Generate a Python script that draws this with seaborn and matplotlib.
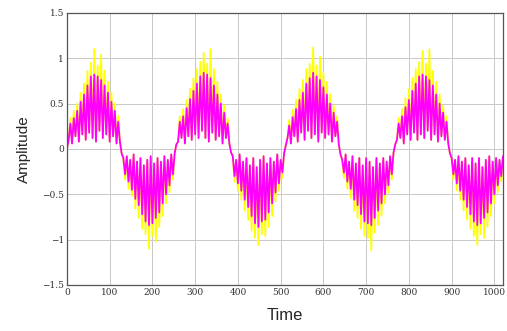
import numpy as np
import pandas as pd
import matplotlib
matplotlib.use("Agg")
import matplotlib.pyplot as plt
import seaborn as sns

# sample spacing of the signal (time units)
step = 4

# magenta signal, one list per half cycle
mag_p1 = [0.00, 0.10, 0.28, 0.06, 0.34, 0.14, 0.42, 0.08, 0.52, 0.16, 0.60, 0.10, 0.70, 0.18, 0.80, 0.12,
          0.82, 0.08, 0.80, 0.20, 0.76, 0.12, 0.70, 0.16, 0.62, 0.08, 0.52, 0.14, 0.42, 0.06, 0.30, 0.08]
mag_n1 = [-0.05, -0.10, -0.28, -0.08, -0.36, -0.12, -0.45, -0.06, -0.55, -0.14, -0.62, -0.10, -0.72, -0.18, -0.80, -0.12,
          -0.84, -0.08, -0.82, -0.16, -0.76, -0.10, -0.70, -0.14, -0.60, -0.08, -0.50, -0.12, -0.40, -0.06, -0.28, -0.05]
mag_p2 = [0.05, 0.08, 0.30, 0.12, 0.36, 0.06, 0.45, 0.14, 0.55, 0.10, 0.64, 0.16, 0.72, 0.12, 0.80, 0.20,
          0.84, 0.12, 0.82, 0.08, 0.78, 0.18, 0.70, 0.10, 0.60, 0.14, 0.50, 0.06, 0.40, 0.12, 0.28, 0.06]
mag_n2 = [-0.04, -0.08, -0.30, -0.12, -0.38, -0.06, -0.46, -0.14, -0.56, -0.10, -0.64, -0.18, -0.74, -0.10, -0.82, -0.20,
          -0.86, -0.12, -0.80, -0.08, -0.78, -0.16, -0.70, -0.10, -0.60, -0.14, -0.48, -0.06, -0.38, -0.12, -0.26, -0.05]
mag_p3 = [0.04, 0.12, 0.26, 0.06, 0.35, 0.14, 0.44, 0.08, 0.54, 0.18, 0.62, 0.10, 0.72, 0.20, 0.78, 0.12,
          0.84, 0.16, 0.80, 0.08, 0.76, 0.18, 0.68, 0.12, 0.60, 0.16, 0.50, 0.08, 0.40, 0.14, 0.30, 0.05]
mag_n3 = [-0.06, -0.12, -0.26, -0.06, -0.36, -0.14, -0.44, -0.08, -0.56, -0.16, -0.62, -0.10, -0.72, -0.18, -0.80, -0.10,
          -0.82, -0.14, -0.84, -0.20, -0.76, -0.10, -0.68, -0.16, -0.60, -0.10, -0.50, -0.14, -0.40, -0.08, -0.28, -0.04]
mag_p4 = [0.05, 0.10, 0.28, 0.12, 0.36, 0.06, 0.46, 0.16, 0.54, 0.10, 0.64, 0.18, 0.72, 0.10, 0.80, 0.16,
          0.82, 0.12, 0.80, 0.20, 0.76, 0.10, 0.70, 0.16, 0.60, 0.08, 0.50, 0.14, 0.40, 0.10, 0.30, 0.06]
mag_n4 = [-0.05, -0.10, -0.28, -0.12, -0.38, -0.08, -0.46, -0.14, -0.56, -0.10, -0.64, -0.18, -0.72, -0.10, -0.80, -0.16,
          -0.84, -0.10, -0.82, -0.20, -0.76, -0.12, -0.70, -0.08, -0.60, -0.14, -0.50, -0.10, -0.40, -0.12, -0.30, -0.08]

# yellow signal (drawn underneath), same layout
yel_p1 = [0.00, 0.10, 0.34, 0.06, 0.42, 0.14, 0.50, 0.08, 0.62, 0.16, 0.72, 0.10, 0.86, 0.18, 0.95, 0.12,
          1.10, 0.08, 0.92, 0.20, 1.04, 0.12, 0.86, 0.16, 0.74, 0.08, 0.62, 0.14, 0.50, 0.06, 0.36, 0.08]
yel_n1 = [-0.05, -0.10, -0.34, -0.08, -0.44, -0.12, -0.52, -0.06, -0.66, -0.14, -0.76, -0.10, -0.88, -0.18, -0.94, -0.12,
          -1.10, -0.08, -0.96, -0.16, -1.02, -0.10, -0.86, -0.14, -0.74, -0.08, -0.60, -0.12, -0.48, -0.06, -0.34, -0.05]
yel_p2 = [0.05, 0.08, 0.36, 0.12, 0.44, 0.06, 0.54, 0.14, 0.66, 0.10, 0.78, 0.16, 0.88, 0.12, 0.96, 0.20,
          1.06, 0.12, 0.94, 0.08, 1.10, 0.18, 0.88, 0.10, 0.74, 0.14, 0.60, 0.06, 0.48, 0.12, 0.34, 0.06]
yel_n2 = [-0.04, -0.08, -0.36, -0.12, -0.46, -0.06, -0.56, -0.14, -0.68, -0.10, -0.78, -0.18, -0.90, -0.10, -0.98, -0.20,
          -1.06, -0.12, -0.94, -0.08, -0.96, -0.16, -0.86, -0.10, -0.74, -0.14, -0.58, -0.06, -0.46, -0.12, -0.32, -0.05]
yel_p3 = [0.04, 0.12, 0.32, 0.06, 0.43, 0.14, 0.54, 0.08, 0.66, 0.18, 0.76, 0.10, 0.88, 0.20, 0.94, 0.12,
          1.12, 0.16, 0.92, 0.08, 1.02, 0.18, 0.84, 0.12, 0.74, 0.16, 0.60, 0.08, 0.48, 0.14, 0.36, 0.05]
yel_n3 = [-0.06, -0.12, -0.32, -0.06, -0.44, -0.14, -0.54, -0.08, -0.68, -0.16, -0.76, -0.10, -0.88, -0.18, -0.96, -0.10,
          -0.98, -0.14, -1.12, -0.20, -0.92, -0.10, -0.84, -0.16, -0.74, -0.10, -0.60, -0.14, -0.48, -0.08, -0.34, -0.04]
yel_p4 = [0.05, 0.10, 0.34, 0.12, 0.44, 0.06, 0.56, 0.16, 0.66, 0.10, 0.78, 0.18, 0.88, 0.10, 0.96, 0.16,
          1.08, 0.12, 0.94, 0.20, 1.10, 0.10, 0.86, 0.16, 0.74, 0.08, 0.60, 0.14, 0.48, 0.10, 0.36, 0.06]
yel_n4 = [-0.05, -0.10, -0.34, -0.12, -0.46, -0.08, -0.56, -0.14, -0.68, -0.10, -0.78, -0.18, -0.88, -0.10, -0.96, -0.16,
          -1.06, -0.10, -0.94, -0.20, -0.98, -0.12, -0.86, -0.08, -0.74, -0.14, -0.60, -0.10, -0.48, -0.12, -0.36, -0.08]

magenta = mag_p1 + mag_n1 + mag_p2 + mag_n2 + mag_p3 + mag_n3 + mag_p4 + mag_n4
yellow = yel_p1 + yel_n1 + yel_p2 + yel_n2 + yel_p3 + yel_n3 + yel_p4 + yel_n4
time = np.arange(len(magenta)) * step

df = pd.DataFrame({'Time': time, 'yellow': yellow, 'magenta': magenta})

sns.set_style("whitegrid")
plt.rcParams['font.family'] = ['Liberation Sans', 'DejaVu Sans']

fig = plt.figure(figsize=(5.07, 3.31), dpi=100)
ax = fig.add_axes([0.132, 0.139, 0.860, 0.822])

sns.lineplot(data=df, x='Time', y='yellow', color='#ffff00', linewidth=1.3, estimator=None, ax=ax)
sns.lineplot(data=df, x='Time', y='magenta', color='#ff00ff', linewidth=1.3, estimator=None, ax=ax)

ax.set_xlim(0, 1020)
ax.set_ylim(-1.5, 1.5)
ax.set_xticks(range(0, 1001, 100))
ax.set_yticks([-1.5, -1, -0.5, 0, 0.5, 1, 1.5])
ax.set_yticklabels(['\u22121.5', '\u22121', '\u22120.5', '0', '0.5', '1', '1.5'])
ax.grid(True, color='#c8c8c8', linewidth=0.7)
for s in ax.spines.values():
    s.set_color('#555555')
    s.set_linewidth(0.9)
ax.tick_params(direction='in', length=3, width=0.7, color='#555555',
               labelsize=6.5, labelcolor='#333333', pad=2)
for lab in ax.get_xticklabels() + ax.get_yticklabels():
    lab.set_family('DejaVu Serif')

ax.set_xlabel('Time', fontsize=12, labelpad=8)
ax.set_ylabel('Amplitude', fontsize=11, labelpad=8)

fig.savefig('out.png', dpi=100)
